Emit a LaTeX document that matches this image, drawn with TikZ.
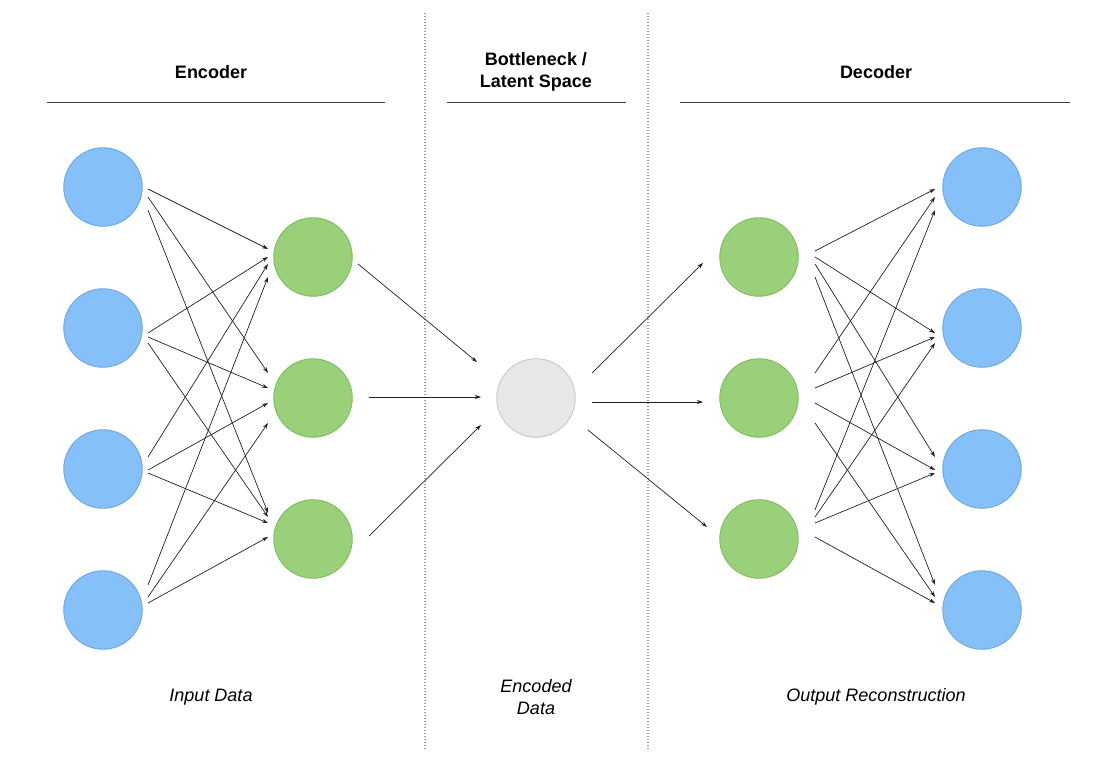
\documentclass[tikz,border=0pt]{standalone}
\usepackage{fontspec}
\setmainfont{Liberation Sans}
\usetikzlibrary{arrows.meta}
\definecolor{bluefill}{HTML}{86C0F8}
\definecolor{bluedraw}{HTML}{6FA6E0}
\definecolor{greenfill}{HTML}{9AD07A}
\definecolor{greendraw}{HTML}{7FBD62}
\definecolor{greyfill}{HTML}{E6E7E8}
\definecolor{greydraw}{HTML}{C8C9CA}
\definecolor{linecol}{HTML}{222222}
\tikzset{
  neuron/.style={circle, minimum size=78.5pt, inner sep=0pt, line width=0.9pt},
  bluen/.style={neuron, fill=bluefill, draw=bluedraw},
  greenn/.style={neuron, fill=greenfill, draw=greendraw},
  greyn/.style={neuron, fill=greyfill, draw=greydraw},
  conn/.style={draw=linecol, line width=0.7pt, -{Stealth[length=6pt,width=4pt]}},
  header/.style={font=\fontsize{18}{22}\selectfont\bfseries, align=center, inner sep=0pt},
  caption/.style={font=\fontsize{18}{22}\selectfont\itshape, align=center, inner sep=0pt},
  rule/.style={draw=black!75, line width=0.9pt},
  divider/.style={draw=black!40, line width=1.3pt, dash pattern=on 1.4pt off 1.6pt},
}
\begin{document}
\begin{tikzpicture}[x=1pt,y=-1pt]
\useasboundingbox (0,0) rectangle (1107,762);
\fill[white] (0,0) rectangle (1107,762);

% dividers
\coordinate (d1t) at (425,13); \coordinate (d1b) at (425,750);
\coordinate (d2t) at (648,13); \coordinate (d2b) at (648,750);
\draw[divider] (d1t) -- (d1b);
\draw[divider] (d2t) -- (d2b);

% headers
\node[header] (hEnc) at (211,72) {Encoder};
\node[header] (hLat) at (536,72) {Bottleneck /\\Latent Space};
\node[header] (hDec) at (876,72) {Decoder};
\coordinate (r1a) at (47,102); \coordinate (r1b) at (385,102);
\coordinate (r2a) at (447,102); \coordinate (r2b) at (626,102);
\coordinate (r3a) at (680,102); \coordinate (r3b) at (1070,102);
\draw[rule] (r1a) -- (r1b);
\draw[rule] (r2a) -- (r2b);
\draw[rule] (r3a) -- (r3b);

% neurons
\node[bluen] (in1) at (103,187) {};
\node[bluen] (in2) at (103,328) {};
\node[bluen] (in3) at (103,469) {};
\node[bluen] (in4) at (103,610) {};
\node[greenn] (eh1) at (313,257) {};
\node[greenn] (eh2) at (313,398) {};
\node[greenn] (eh3) at (313,539) {};
\node[greyn] (lat) at (536,398) {};
\node[greenn] (dh1) at (759,257) {};
\node[greenn] (dh2) at (759,398) {};
\node[greenn] (dh3) at (759,539) {};
\node[bluen] (out1) at (982,187) {};
\node[bluen] (out2) at (982,328) {};
\node[bluen] (out3) at (982,469) {};
\node[bluen] (out4) at (982,610) {};

% encoder connections: input -> hidden
\foreach \i/\j/\a/\b in {
  1/1/2/-8, 1/2/10/-25, 1/3/23/-26,
  2/1/5/0, 2/2/9/-10, 2/3/15/-22,
  3/1/-12/7, 3/2/1/5, 3/3/4/-16,
  4/1/-25/20, 4/2/-13/25, 4/3/-7/-2}{
  \draw[conn] ([shift={(45,\a)}]in\i.center) -- ([shift={(-45,\b)}]eh\j.center);
}

% decoder connections: hidden -> output
\foreach \i/\j/\a/\b in {
  1/1/-6/2, 1/2/0/5, 1/3/7/-12, 1/4/20/-25,
  2/1/-25/10, 2/2/-10/9, 2/3/5/1, 2/4/25/-13,
  3/1/-29/23, 3/2/-22/15, 3/3/-16/4, 3/4/-2/-7}{
  \draw[conn] ([shift={(56,\a)}]dh\i.center) -- ([shift={(-47,\b)}]out\j.center);
}

% bottleneck connections
\draw[conn] ([shift={(45,7)}]eh1.center) -- ([shift={(-59,-36)}]lat.center);
\draw[conn] ([shift={(56,-1)}]eh2.center) -- ([shift={(-55,-1)}]lat.center);
\draw[conn] ([shift={(56,-3)}]eh3.center) -- ([shift={(-55,27)}]lat.center);
\draw[conn] ([shift={(56,-25)}]lat.center) -- ([shift={(-56,6)}]dh1.center);
\draw[conn] ([shift={(56,4)}]lat.center) -- ([shift={(-56,4)}]dh2.center);
\draw[conn] ([shift={(52,32)}]lat.center) -- ([shift={(-52,-12)}]dh3.center);

% captions
\node[caption] (cIn) at (211,697) {Input Data};
\node[caption] (cLat) at (536,697) {Encoded\\Data};
\node[caption] (cOut) at (876,697) {Output Reconstruction};
\end{tikzpicture}
\end{document}
